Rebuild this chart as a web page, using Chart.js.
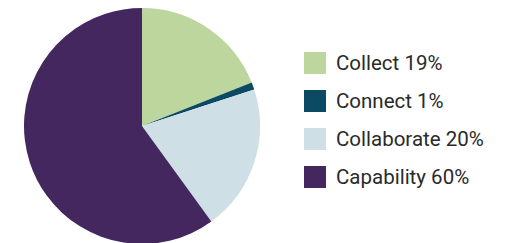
<!DOCTYPE html>
<html>
<head>
<meta charset="utf-8">
<script src="https://cdn.jsdelivr.net/npm/chart.js@4"></script>
<style>
  html, body { margin: 0; padding: 0; background: #fff; }
  body { width: 525px; height: 243px; position: relative; overflow: hidden; font-family: Roboto, sans-serif; }
  #pieBox { position: absolute; left: 24px; top: 8px; width: 236px; height: 236px; }
  #legend { position: absolute; left: 304px; top: 52px; }
  .item { display: flex; align-items: center; height: 22px; margin-bottom: 16px; white-space: nowrap; }
  .swatch { width: 22px; height: 22px; margin-right: 10px; flex: none; }
  .label { font-size: 20.5px; color: #2a2a2a; }
</style>
</head>
<body>
<div id="pieBox"><canvas id="pieChart"></canvas></div>
<div id="legend"></div>
<script>
const categories = ['Collect', 'Connect', 'Collaborate', 'Capability'];
const shares = [19, 1, 20, 60];
const colors = ['#bcd69d', '#0b4a62', '#cfdfe6', '#43275e'];

const ctx = document.getElementById('pieChart').getContext('2d');
new Chart(ctx, {
  type: 'pie',
  data: {
    labels: categories,
    datasets: [{
      data: shares,
      backgroundColor: colors,
      borderWidth: 0
    }]
  },
  options: {
    responsive: true,
    maintainAspectRatio: false,
    animation: false,
    layout: { padding: 0 },
    plugins: {
      legend: { display: false },
      tooltip: { enabled: false }
    }
  }
});

const legend = document.getElementById('legend');
categories.forEach((name, i) => {
  const row = document.createElement('div');
  row.className = 'item';
  row.innerHTML = '<div class="swatch" style="background:' + colors[i] + '"></div>' +
    '<span class="label">' + name + ' ' + shares[i] + '%</span>';
  legend.appendChild(row);
});
</script>
</body>
</html>
